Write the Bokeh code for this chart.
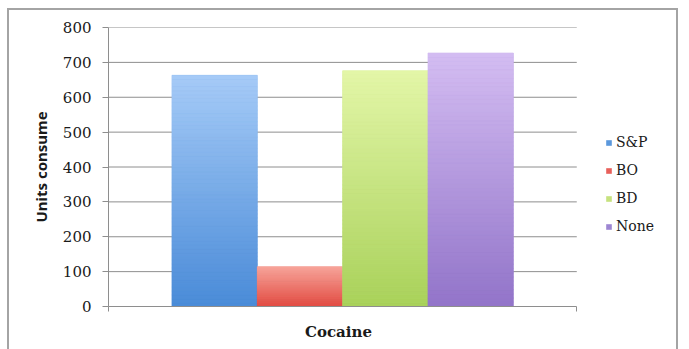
from bokeh.plotting import figure
from bokeh.models import Legend, LegendItem, FixedTicker, Title
from bokeh.embed import file_html
from bokeh.resources import INLINE

# Units consumed of cocaine per group
series = ["S&P", "BO", "BD", "None"]
values = [663, 114, 676, 727]
category = "Cocaine"

# gradient colours for each bar: (top, bottom, legend swatch)
top_colors = ["#a6cbf7", "#f7a59b", "#e3f6a8", "#d4bdf2"]
bottom_colors = ["#4a8bd8", "#e24c43", "#a9d15a", "#9274c9"]
swatch_colors = ["#5b98dc", "#e8605a", "#c6e27e", "#9d86d2"]

y_ticks = [0, 100, 200, 300, 400, 500, 600, 700, 800]

SERIF = "DejaVu Serif"
GRID = "#8e8e8e"

# the category occupies x in [0, 1]; the area to its right holds the legend
X_END = 1.2215
FRAME_W = 568  # pixels from the y axis to the right edge

p = figure(
    width=671, height=341,
    x_range=(0, X_END), y_range=(0, 800),
    output_backend="svg", toolbar_location=None,
    min_border_left=99, min_border_right=0,
    min_border_top=17, min_border_bottom=45,
    margin=(8, 0, 0, 7),
    styles={
        "border-top": "2px solid #a4a4a4",
        "border-left": "2px solid #a4a4a4",
        "border-right": "2px solid #a4a4a4",
        "box-sizing": "border-box",
    },
)
p.outline_line_color = None
p.background_fill_color = "white"
p.border_fill_color = "white"

# y axis
p.yaxis.ticker = FixedTicker(ticks=y_ticks)
p.yaxis.axis_line_color = GRID
p.yaxis.major_tick_line_color = GRID
p.yaxis.major_tick_out = 6
p.yaxis.major_tick_in = 0
p.yaxis.minor_tick_line_color = None
p.yaxis.major_label_text_font = SERIF
p.yaxis.major_label_text_font_size = "15px"
p.yaxis.major_label_text_color = "#1a1a1a"
p.yaxis.major_label_standoff = 11
p.yaxis.axis_label = "Units consume"
p.yaxis.axis_label_text_font = "Noto Sans"
p.yaxis.axis_label_text_font_style = "bold"
p.yaxis.axis_label_text_font_size = "15px"
p.yaxis.axis_label_text_color = "#1a1a1a"
p.yaxis.axis_label_standoff = 9

# x axis: one category spanning [0, 1]
p.xaxis.bounds = (0, 1)
p.xaxis.ticker = FixedTicker(ticks=[0, 1])
p.xaxis.major_label_overrides = {0: "", 1: ""}
p.xaxis.major_label_text_font_size = "1px"
p.xaxis.major_label_standoff = 0
p.xaxis.axis_line_color = GRID
p.xaxis.major_tick_line_color = GRID
p.xaxis.major_tick_out = 5
p.xaxis.major_tick_in = 0
p.xaxis.minor_tick_line_color = None

# category name centred under [0, 1]
CAT_TEXT_W = 72
cat_title = Title(
    text=category, align="left",
    offset=FRAME_W / (2 * X_END) - CAT_TEXT_W / 2,
    text_font=SERIF, text_font_style="bold", text_font_size="15px",
    text_color="#1a1a1a", standoff=19,
)
p.add_layout(cat_title, "below")

p.xgrid.grid_line_color = None
p.ygrid.grid_line_color = None

# horizontal gridlines across the category only
grid_y = y_ticks[1:]
p.segment(x0=[0] * len(grid_y), x1=[1] * len(grid_y), y0=grid_y, y1=grid_y,
          line_color=GRID, line_width=1)


def hex_rgb(h):
    h = h.lstrip("#")
    return tuple(int(h[i:i + 2], 16) for i in (0, 2, 4))


def mix(c1, c2, t):
    a, b = hex_rgb(c1), hex_rgb(c2)
    return "#%02x%02x%02x" % tuple(round(a[k] + (b[k] - a[k]) * t) for k in range(3))


# clustered bars: group occupies the middle part of the category
group_width = 0.729
bar_w = group_width / len(series)
start = 0.5 - group_width / 2

N = 60
items = []
for i, (name, v) in enumerate(zip(series, values)):
    xc = start + bar_w * (i + 0.5)
    base = p.vbar(x=[xc], top=[v], bottom=0, width=bar_w,
                  fill_color=swatch_colors[i], line_color=None)
    bottoms = [v * k / N for k in range(N)]
    tops = [v * (k + 1) / N for k in range(N)]
    cols = [mix(bottom_colors[i], top_colors[i], (k + 0.5) / N) for k in range(N)]
    p.vbar(x=[xc] * N, bottom=bottoms, top=tops, width=bar_w,
           fill_color=cols, line_color=cols, line_width=0.6)
    items.append(LegendItem(label=name, renderers=[base]))

legend = Legend(
    items=items, location=(497, 71),
    glyph_width=7, glyph_height=7, label_standoff=4,
    label_height=18, spacing=10, padding=0, margin=0,
    border_line_color=None, background_fill_alpha=0,
    label_text_font=SERIF, label_text_font_size="14px",
    label_text_color="#1a1a1a",
)
p.add_layout(legend)

open("out.html", "w").write(file_html(p, INLINE))
